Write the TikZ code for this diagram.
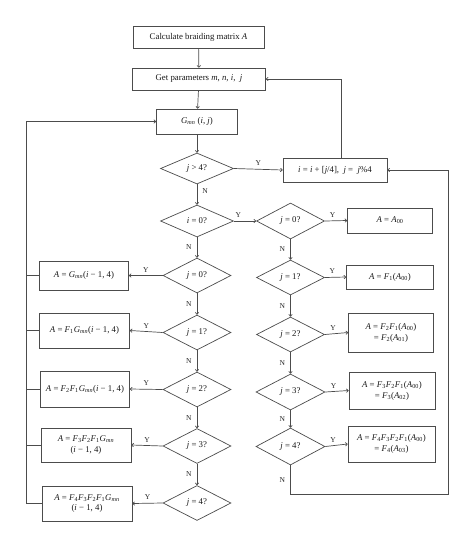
\documentclass[tikz,border=0pt]{standalone}
\usepackage{fontspec}
\setmainfont{Liberation Serif}
\usetikzlibrary{shapes.geometric,arrows.meta,calc}
\newcommand{\vi}[1]{\textit{#1}}
\newcommand{\sub}[1]{\textsubscript{#1}}
\tikzset{
  box/.style={draw=black!70, fill=white, line width=0.7pt, inner sep=1pt, align=center, font=\fontsize{8.8}{10.8}\selectfont, text=black!90},
  dec/.style={draw=black!70, fill=white, line width=0.7pt, shape=diamond, inner sep=0pt, aspect=2, minimum width=68pt, minimum height=35pt, font=\fontsize{8.8}{10}\selectfont, text=black!90},
  conn/.style={draw=black!70, line width=0.7pt},
  arr/.style={conn, -{To[length=2.5pt,width=4pt]}},
  lab/.style={font=\fontsize{7.5}{8}\selectfont, text=black!85, inner sep=0pt},
}
\begin{document}
\begin{tikzpicture}[x=1pt,y=-1pt]
\useasboundingbox (0,0) rectangle (474,547);
% top
\node[box, minimum width=131pt, minimum height=22pt] (calc) at (198.5,37) {Calculate braiding matrix \vi{A}};
\node[box, minimum width=133pt, minimum height=22pt] (get) at (199,79) {Get parameters \vi{m}, \vi{n}, \vi{i}, \ \vi{j}};
\node[box, minimum width=81pt, minimum height=25pt] (gmn) at (197,121.5) {\vi{G}\sub{\vi{mn}} (\vi{i}, \vi{j})};
\node[dec, minimum width=73pt, minimum height=31pt] (d0) at (197,168.5) {\vi{j} > 4?};
\node[box, minimum width=104pt, minimum height=24pt] (upd) at (335,170) {\vi{i} = \vi{i} + [\vi{j}/4], \ \vi{j} = \ \vi{j}\%4};
% main column
\node[dec, minimum width=73pt, minimum height=32pt] (di) at (197,221) {\vi{i} = 0?};
\node[dec] (l0) at (197,275.5) {\vi{j} = 0?};
\node[dec] (l1) at (197,332.5) {\vi{j} = 1?};
\node[dec] (l2) at (197,389.5) {\vi{j} = 2?};
\node[dec] (l3) at (197,446) {\vi{j} = 3?};
\node[dec] (l4) at (197,503) {\vi{j} = 4?};
% left boxes
\node[box, minimum width=89pt, minimum height=29pt] (lb0) at (84,275.5) {\vi{A} = \vi{G}\sub{\vi{mn}}(\vi{i} − 1, 4)};
\node[box, minimum width=90pt, minimum height=35pt] (lb1) at (84.5,330.5) {\vi{A} = \vi{F}\sub{1}\vi{G}\sub{\vi{mn}}(\vi{i} − 1, 4)};
\node[box, minimum width=89pt, minimum height=36pt] (lb2) at (85,389) {\vi{A} = \vi{F}\sub{2}\vi{F}\sub{1}\vi{G}\sub{\vi{mn}}(\vi{i} − 1, 4)};
\node[box, minimum width=90pt, minimum height=34pt] (lb3) at (86,445) {\vi{A} = \vi{F}\sub{3}\vi{F}\sub{2}\vi{F}\sub{1}\vi{G}\sub{\vi{mn}}\\(\vi{i} − 1, 4)};
\node[box, minimum width=90pt, minimum height=35pt] (lb4) at (87,503.5) {\vi{A} = \vi{F}\sub{4}\vi{F}\sub{3}\vi{F}\sub{2}\vi{F}\sub{1}\vi{G}\sub{\vi{mn}}\\(\vi{i} − 1, 4)};
% right column
\node[dec, minimum height=36pt] (r0) at (290.5,221) {\vi{j} = 0?};
\node[dec] (r1) at (290.5,277.5) {\vi{j} = 1?};
\node[dec] (r2) at (290.5,334.5) {\vi{j} = 2?};
\node[dec, minimum width=69pt, minimum height=36pt] (r3) at (290.5,392) {\vi{j} = 3?};
\node[dec, minimum width=69pt, minimum height=37pt] (r4) at (290.5,446.5) {\vi{j} = 4?};
% right boxes
\node[box, minimum width=85pt, minimum height=25pt] (rb0) at (390,220.5) {\vi{A} = \vi{A}\sub{00}};
\node[box, minimum width=87pt, minimum height=24pt] (rb1) at (390,277) {\vi{A} = \vi{F}\sub{1}(\vi{A}\sub{00})};
\node[box, minimum width=85pt, minimum height=39pt] (rb2) at (391,332.5) {\vi{A} = \vi{F}\sub{2}\vi{F}\sub{1}(\vi{A}\sub{00})\\= \vi{F}\sub{2}(\vi{A}\sub{01})};
\node[box, minimum width=86pt, minimum height=37pt] (rb3) at (392,390.5) {\vi{A} = \vi{F}\sub{3}\vi{F}\sub{2}\vi{F}\sub{1}(\vi{A}\sub{00})\\= \vi{F}\sub{3}(\vi{A}\sub{02})};
\node[box, minimum width=87pt, minimum height=36pt] (rb4) at (391.5,444) {\vi{A} = \vi{F}\sub{4}\vi{F}\sub{3}\vi{F}\sub{2}\vi{F}\sub{1}(\vi{A}\sub{00})\\= \vi{F}\sub{4}(\vi{A}\sub{03})};
% loop coordinates
\coordinate (cL) at (26,503.5);
\coordinate (cR) at (448,494);
% connectors top
\draw[arr] (calc) -- (get);
\draw[arr] (get) -- (gmn);
\draw[arr] (gmn) -- (d0);
\draw[arr] (d0.east) -- node[lab, above=3pt] {Y} (upd.west);
\draw[arr] ([xshift=6pt]upd.north) |- (get.east);
\draw[arr] (d0.south) -- node[lab, right=5pt, pos=0.35] {N} (di.north);
\draw[arr] (di.east) -- node[lab, above=3pt, pos=0.2] {Y} (r0.west);
\draw[arr] (r0.east) -- node[lab, above=3pt, pos=0.35] {Y} (rb0.west);
% main column
\draw[arr] (di.south) -- node[lab, left=5pt] {N} (l0.north);
\draw[arr] (l0.south) -- node[lab, left=5pt] {N} (l1.north);
\draw[arr] (l1.south) -- node[lab, left=5pt] {N} (l2.north);
\draw[arr] (l2.south) -- node[lab, left=5pt] {N} (l3.north);
\draw[arr] (l3.south) -- node[lab, left=5pt] {N} (l4.north);
\draw[arr] (l0.west) -- node[lab, above=3pt] {Y} (lb0.east);
\draw[arr] (l1.west) -- node[lab, above=3pt] {Y} (lb1.east);
\draw[arr] (l2.west) -- node[lab, above=3pt] {Y} (lb2.east);
\draw[arr] (l3.west) -- node[lab, above=3pt] {Y} (lb3.east);
\draw[arr] (l4.west) -- node[lab, above=3pt] {Y} (lb4.east);
% left loop
\draw[arr] (lb4.west) -- (cL) |- (gmn.west);
\draw[conn] (lb0.west) -- (lb0.west -| cL);
\draw[conn] (lb1.west) -- (lb1.west -| cL);
\draw[conn] (lb2.west) -- (lb2.west -| cL);
\draw[conn] (lb3.west) -- (lb3.west -| cL);
% right column
\draw[arr] (r0.south) -- node[lab, left=5pt] {N} (r1.north);
\draw[arr] (r1.south) -- node[lab, left=5pt] {N} (r2.north);
\draw[arr] (r2.south) -- node[lab, left=5pt] {N} (r3.north);
\draw[arr] (r3.south) -- node[lab, left=5pt] {N} (r4.north);
\draw[arr] (r1.east) -- node[lab, above=3pt, pos=0.35] {Y} (rb1.west);
\draw[arr] (r2.east) -- node[lab, above=3pt, pos=0.35] {Y} (rb2.west);
\draw[arr] (r3.east) -- node[lab, above=3pt, pos=0.35] {Y} (rb3.west);
\draw[arr] (r4.east) -- node[lab, above=3pt, pos=0.35] {Y} (rb4.west);
% right loop
\draw[arr] (r4.south) |- node[lab, left=5pt, pos=0.25] {N} (cR) |- (upd.east);
\end{tikzpicture}
\end{document}
